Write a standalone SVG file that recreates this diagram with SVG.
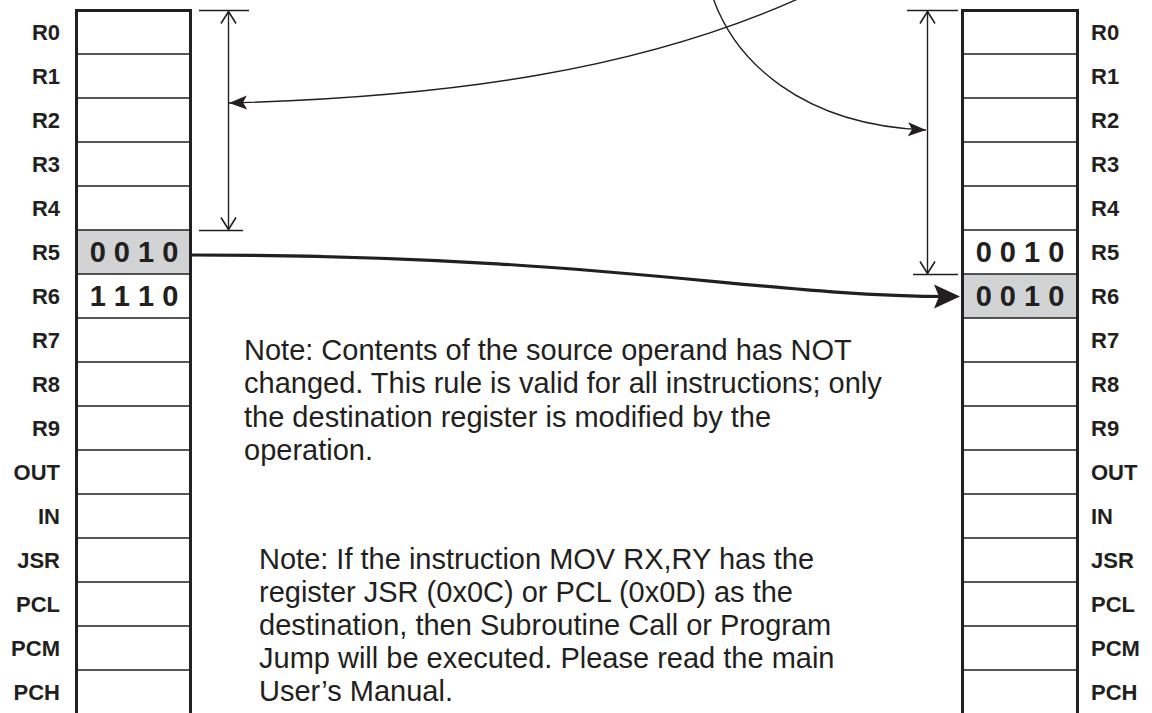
<svg xmlns="http://www.w3.org/2000/svg" width="1152" height="713" viewBox="0 0 1152 713">
<defs>
<style>
.bg{fill:#ffffff}
.hl{fill:#d1d3d4}
.div{stroke:#231f20;stroke-width:1.3;fill:none}
.col{stroke:#231f20;stroke-width:3;fill:none}
.lab{font-family:"Liberation Sans",Arial,Helvetica,sans-serif;font-weight:bold;font-size:22px;fill:#231f20}
.labL{text-anchor:end}
.val{font-family:"Liberation Sans",Arial,Helvetica,sans-serif;font-weight:bold;font-size:29px;fill:#231f20;text-anchor:middle}
.note{font-family:"Liberation Sans",Arial,Helvetica,sans-serif;font-size:29px;fill:#231f20}
.thin{stroke:#231f20;stroke-width:1.4;fill:none}
.thick{stroke:#231f20;stroke-width:3.2;fill:none}
</style>
<marker id="arrowThin" markerUnits="userSpaceOnUse" viewBox="0 0 18 14" refX="18" refY="7" markerWidth="18" markerHeight="14" orient="auto" overflow="visible">
<path d="M0,0 L18,7 L0,14 L4,7 z" fill="#231f20"/>
</marker>
<marker id="arrowThick" markerUnits="userSpaceOnUse" viewBox="0 0 26 24" refX="16" refY="12" markerWidth="26" markerHeight="24" orient="auto" overflow="visible">
<path d="M0,0 L26,12 L0,24 L5,12 z" fill="#231f20"/>
</marker>
<marker id="chev" markerUnits="userSpaceOnUse" viewBox="-14 -9 16 18" refX="0" refY="0" markerWidth="16" markerHeight="18" orient="auto-start-reverse" overflow="visible">
<path d="M-12,-7.5 L0,0 L-12,7.5" fill="none" stroke="#231f20" stroke-width="1.6"/>
</marker>
</defs>
<rect class="bg" x="0" y="0" width="1152" height="713"/>

<g id="left-registers">
<g id="L-R0"><text class="lab labL" x="60" y="40">R0</text></g>
<g id="L-R1"><text class="lab labL" x="60" y="84">R1</text></g>
<g id="L-R2"><text class="lab labL" x="60" y="128">R2</text></g>
<g id="L-R3"><text class="lab labL" x="60" y="172">R3</text></g>
<g id="L-R4"><text class="lab labL" x="60" y="216">R4</text></g>
<g id="L-R5"><rect class="hl" x="77" y="230" width="113" height="44"/><text class="lab labL" x="60" y="260">R5</text><text class="val" x="134" y="262">0 0 1 0</text></g>
<g id="L-R6"><text class="lab labL" x="60" y="304">R6</text><text class="val" x="134" y="306">1 1 1 0</text></g>
<g id="L-R7"><text class="lab labL" x="60" y="348">R7</text></g>
<g id="L-R8"><text class="lab labL" x="60" y="392">R8</text></g>
<g id="L-R9"><text class="lab labL" x="60" y="436">R9</text></g>
<g id="L-OUT"><text class="lab labL" x="60" y="480">OUT</text></g>
<g id="L-IN"><text class="lab labL" x="60" y="524">IN</text></g>
<g id="L-JSR"><text class="lab labL" x="60" y="568">JSR</text></g>
<g id="L-PCL"><text class="lab labL" x="60" y="612">PCL</text></g>
<g id="L-PCM"><text class="lab labL" x="60" y="656">PCM</text></g>
<g id="L-PCH"><text class="lab labL" x="60" y="700">PCH</text></g>
<path class="div" d="M77,54H190M77,98H190M77,142H190M77,186H190M77,230H190M77,274H190M77,318H190M77,362H190M77,406H190M77,450H190M77,494H190M77,538H190M77,582H190M77,626H190M77,670H190"/>
<rect class="col" x="76.5" y="10.5" width="114" height="710"/>
</g>

<g id="right-registers">
<g id="R-R0"><text class="lab" x="1091" y="40">R0</text></g>
<g id="R-R1"><text class="lab" x="1091" y="84">R1</text></g>
<g id="R-R2"><text class="lab" x="1091" y="128">R2</text></g>
<g id="R-R3"><text class="lab" x="1091" y="172">R3</text></g>
<g id="R-R4"><text class="lab" x="1091" y="216">R4</text></g>
<g id="R-R5"><text class="lab" x="1091" y="260">R5</text><text class="val" x="1020" y="262">0 0 1 0</text></g>
<g id="R-R6"><rect class="hl" x="963" y="274" width="114" height="44"/><text class="lab" x="1091" y="304">R6</text><text class="val" x="1020" y="306">0 0 1 0</text></g>
<g id="R-R7"><text class="lab" x="1091" y="348">R7</text></g>
<g id="R-R8"><text class="lab" x="1091" y="392">R8</text></g>
<g id="R-R9"><text class="lab" x="1091" y="436">R9</text></g>
<g id="R-OUT"><text class="lab" x="1091" y="480">OUT</text></g>
<g id="R-IN"><text class="lab" x="1091" y="524">IN</text></g>
<g id="R-JSR"><text class="lab" x="1091" y="568">JSR</text></g>
<g id="R-PCL"><text class="lab" x="1091" y="612">PCL</text></g>
<g id="R-PCM"><text class="lab" x="1091" y="656">PCM</text></g>
<g id="R-PCH"><text class="lab" x="1091" y="700">PCH</text></g>
<path class="div" d="M963,54H1077M963,98H1077M963,142H1077M963,186H1077M963,230H1077M963,274H1077M963,318H1077M963,362H1077M963,406H1077M963,450H1077M963,494H1077M963,538H1077M963,582H1077M963,626H1077M963,670H1077"/>
<rect class="col" x="962.5" y="10.5" width="115" height="710"/>
</g>

<g id="dim-left">
<path class="thin" d="M199,10.5H249M199,230.5H243"/>
<path class="thin" d="M228.5,11.5V229.5" marker-start="url(#chev)" marker-end="url(#chev)"/>
</g>
<g id="dim-right">
<path class="thin" d="M907,10.5H958M913,274.5H958"/>
<path class="thin" d="M927.5,11.5V273.5" marker-start="url(#chev)" marker-end="url(#chev)"/>
</g>

<g id="connectors">
<path class="thin" d="M800,-2 C640,70 450,97 229,103" marker-end="url(#arrowThin)"/>
<path class="thin" d="M713,-2 C735,60 800,125 926,130" marker-end="url(#arrowThin)"/>
<path class="thick" d="M191,255 C600,255 760,296.5 950,296.5" marker-end="url(#arrowThick)"/>
</g>

<g id="note1">
<text class="note" x="244" y="360">Note: Contents of the source operand has NOT</text>
<text class="note" x="244" y="393.3">changed. This rule is valid for all instructions; only</text>
<text class="note" x="244" y="426.6">the destination register is modified by the</text>
<text class="note" x="244" y="460">operation.</text>
</g>
<g id="note2">
<text class="note" x="259" y="569">Note: If the instruction MOV RX,RY has the</text>
<text class="note" x="259" y="602">register JSR (0x0C) or PCL (0x0D) as the</text>
<text class="note" x="259" y="635">destination, then Subroutine Call or Program</text>
<text class="note" x="259" y="668">Jump will be executed. Please read the main</text>
<text class="note" x="259" y="701">User’s Manual.</text>
</g>
</svg>
